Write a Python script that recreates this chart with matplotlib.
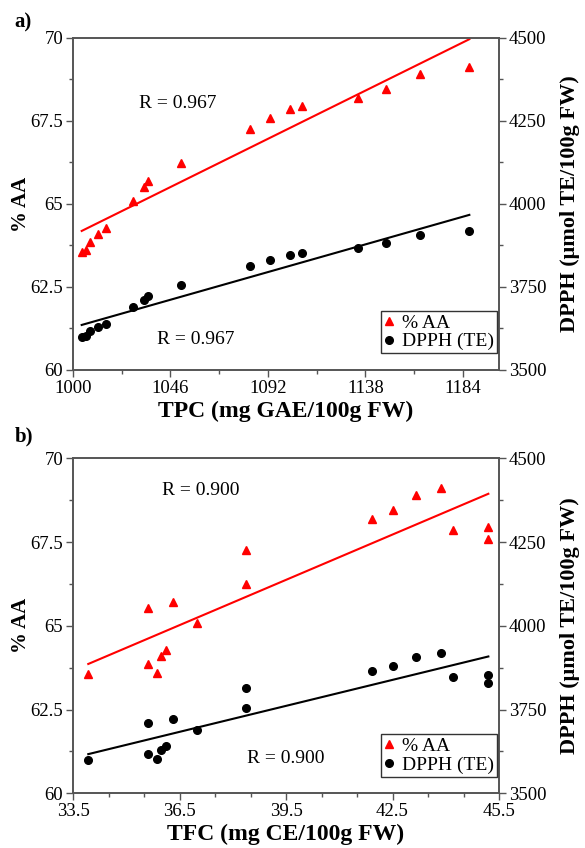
import numpy as np
import matplotlib.pyplot as plt

plt.rcParams['font.family'] = ['Liberation Serif', 'DejaVu Serif']

# data (same samples in both panels)
tpc = [1004.1, 1006.1, 1008.0, 1011.6, 1015.4, 1028.3, 1033.3, 1035.5, 1051.1,
       1083.7, 1093.1, 1102.5, 1108.2, 1134.3, 1147.5, 1163.7, 1187.0]
tfc = [33.93, 35.87, 35.62, 35.97, 36.13, 36.98, 35.62, 36.32, 38.38,
       38.38, 45.2, 44.19, 45.2, 41.92, 42.5, 43.16, 43.87]
aa = [63.56, 63.60, 63.86, 64.09, 64.28, 65.09, 65.52, 65.70, 66.24,
      67.27, 67.59, 67.85, 67.96, 68.19, 68.47, 68.92, 69.12]
dpph = [3600, 3601, 3618, 3629, 3640, 3689, 3711, 3722, 3755,
        3813, 3830, 3846, 3852, 3866, 3881, 3907, 3919]

panels = ['a)', 'b)']
xlabels = ['TPC (mg GAE/100g FW)', 'TFC (mg CE/100g FW)']
r_text = ['R = 0.967', 'R = 0.900']
xlims = [(1000, 1201), (33.5, 45.5)]
xticks = [[1000, 1046, 1092, 1138, 1184], [33.5, 36.5, 39.5, 42.5, 45.5]]
xminor = [23, 1.0]
r_pos = [[(1031, 68.04), (1039.5, 60.93)], [(36.0, 69.05), (38.4, 61.04)]]

spine_c = '#555555'
fig = plt.figure(figsize=(5.85, 8.48), dpi=100)
boxes = [[0.1248, 0.5637, 0.7282, 0.3915], [0.1248, 0.0645, 0.7282, 0.395]]
label_y = [0.985, 0.497]

for i in range(2):
    xs = np.array([tpc, tfc][i])
    ax = fig.add_axes(boxes[i])
    ax2 = ax.twinx()

    ax.plot(xs, aa, '^', color='red', ms=6, label='% AA', zorder=3)
    ax2.plot(xs, dpph, 'o', color='black', ms=5.5, label='DPPH (TE)', zorder=3)

    # linear fits
    xl = np.array([xs.min(), xs.max()])
    p1 = np.polyfit(xs, aa, 1)
    p2 = np.polyfit(xs, dpph, 1)
    ax.plot(xl, np.polyval(p1, xl), color='red', lw=1.5)
    ax2.plot(xl, np.polyval(p2, xl), color='black', lw=1.5)

    ax.set_xlim(*xlims[i])
    ax.set_ylim(60, 70)
    ax2.set_ylim(3500, 4500)
    ax.set_xticks(xticks[i])
    ax.set_xticklabels([('%g' % t) if i == 1 else str(t) for t in xticks[i]])
    ax.set_xticks(np.arange(xlims[i][0], xlims[i][1], xminor[i]), minor=True)
    ax.set_yticks([60, 62.5, 65, 67.5, 70])
    ax.set_yticklabels(['60', '62.5', '65', '67.5', '70'])
    ax.set_yticks(np.arange(60, 70.1, 1.25), minor=True)
    ax2.set_yticks([3500, 3750, 4000, 4250, 4500])
    ax2.set_yticks(np.arange(3500, 4501, 125), minor=True)

    for a in (ax, ax2):
        for s in a.spines.values():
            s.set_color(spine_c)
            s.set_linewidth(1.2)
        a.tick_params(which='major', direction='out', length=5, width=1,
                      color=spine_c, labelsize=13.5, pad=2)
        a.tick_params(which='minor', direction='out', length=3, width=1,
                      color=spine_c)
    ax.tick_params(axis='x', which='both', top=False)

    ax.set_xlabel(xlabels[i], fontsize=17, fontweight='bold', labelpad=3)
    ax.set_ylabel('% AA', fontsize=15, fontweight='bold', labelpad=0)
    ax2.set_ylabel('DPPH (μmol TE/100g FW)', fontsize=16, fontweight='bold',
                   labelpad=10)

    for (tx, ty) in r_pos[i]:
        ax.text(tx, ty, r_text[i], fontsize=14, ha='left', va='center')

    h1, l1 = ax.get_legend_handles_labels()
    h2, l2 = ax2.get_legend_handles_labels()
    leg = ax2.legend(h1[:1] + h2[:1], l1[:1] + l2[:1], loc='lower right',
                     bbox_to_anchor=(0.995, 0.05), fontsize=14, frameon=True,
                     fancybox=False, handlelength=0.6, handletextpad=0.35,
                     borderpad=0.15, labelspacing=0.05, borderaxespad=0)
    leg.get_frame().set_edgecolor('black')
    leg.get_frame().set_linewidth(1.0)

    fig.text(0.025, label_y[i], panels[i], fontsize=15, fontweight='bold',
             ha='left', va='top')

fig.savefig('out.png', dpi=100)
